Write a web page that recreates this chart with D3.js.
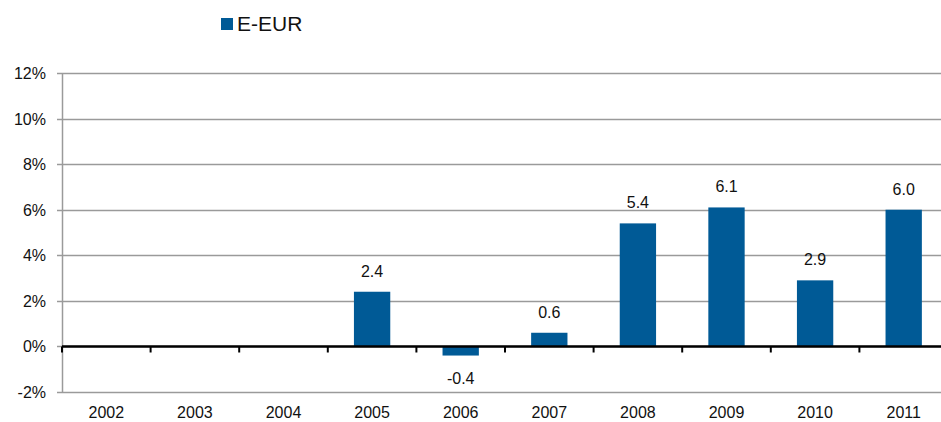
<!DOCTYPE html>
<html lang="en">
<head>
<meta charset="utf-8">
<title>E-EUR</title>
<script src="https://cdn.jsdelivr.net/npm/d3@7"></script>
<style>
  body, html { margin:0; padding:0; background:#fff; }
  svg { font-family: Arial, "Liberation Sans", sans-serif; }
</style>
</head>
<body>
<svg id="chart" width="941" height="422"></svg>
<script>
var years  = ['2002','2003','2004','2005','2006','2007','2008','2009','2010','2011'];
var values = [null, null, null, 2.4, -0.4, 0.6, 5.4, 6.1, 2.9, 6.0];
var yTicks = [-2, 0, 2, 4, 6, 8, 10, 12];
var seriesName = 'E-EUR';

var svg = d3.select('#chart');
// note: "top" is a reserved window property, so use plot* names
var plotLeft = 62, plotRight = 948, plotTop = 73, plotBottom = 392;

var x = d3.scaleBand().domain(years).range([plotLeft, plotRight]).paddingInner(0.59).paddingOuter(0.295);
var xb = d3.scaleBand().domain(years).range([plotLeft, plotRight]);
var y = d3.scaleLinear().domain([-2, 12]).range([plotBottom, plotTop]);

// gridlines
svg.append('g').selectAll('line').data(yTicks).enter().append('line')
  .attr('x1', plotLeft - 5).attr('x2', 941)
  .attr('y1', function(d){ return Math.round(y(d)) + 0.5; })
  .attr('y2', function(d){ return Math.round(y(d)) + 0.5; })
  .attr('stroke', '#9a9a9a').attr('stroke-width', 1.5);

// left axis line
svg.append('line').attr('x1', plotLeft + 0.5).attr('x2', plotLeft + 0.5)
  .attr('y1', plotTop).attr('y2', plotBottom + 1)
  .attr('stroke', '#9a9a9a').attr('stroke-width', 1.5);

// y labels
svg.append('g').selectAll('text').data(yTicks).enter().append('text')
  .attr('x', 46).attr('y', function(d){ return y(d) + 6; })
  .attr('text-anchor', 'end').attr('font-size', 16).attr('fill', '#111')
  .text(function(d){ return d + '%'; });

// bars
var data = years.map(function(yr, i){ return { year: yr, v: values[i] }; })
  .filter(function(d){ return d.v !== null; });

svg.append('g').selectAll('rect').data(data).enter().append('rect')
  .attr('x', function(d){ return x(d.year); })
  .attr('width', x.bandwidth())
  .attr('y', function(d){ return y(Math.max(0, d.v)); })
  .attr('height', function(d){ return Math.abs(y(d.v) - y(0)); })
  .attr('fill', '#005a96');

// zero line + ticks
var zy = Math.round(y(0)) + 0.5;
svg.append('line').attr('x1', plotLeft).attr('x2', 941).attr('y1', zy).attr('y2', zy)
  .attr('stroke', '#000').attr('stroke-width', 2.5);
svg.append('g').selectAll('line').data(years).enter().append('line')
  .attr('x1', function(d){ return xb(d); }).attr('x2', function(d){ return xb(d); })
  .attr('y1', zy).attr('y2', zy + 6)
  .attr('stroke', '#000').attr('stroke-width', 2);

// value labels
svg.append('g').selectAll('text').data(data).enter().append('text')
  .attr('x', function(d){ return x(d.year) + x.bandwidth() / 2; })
  .attr('y', function(d){ return d.v >= 0 ? y(d.v) - 15 : y(d.v) + 28; })
  .attr('text-anchor', 'middle').attr('font-size', 16).attr('fill', '#111')
  .text(function(d){ return d.v.toFixed(1); });

// x labels
svg.append('g').selectAll('text').data(years).enter().append('text')
  .attr('x', function(d){ return xb(d) + xb.bandwidth() / 2; })
  .attr('y', 418)
  .attr('text-anchor', 'middle').attr('font-size', 16).attr('fill', '#111')
  .text(function(d){ return d; });

// legend
svg.append('rect').attr('x', 221).attr('y', 18).attr('width', 12).attr('height', 12).attr('fill', '#005a96');
svg.append('text').attr('x', 237).attr('y', 31).attr('font-size', 21).attr('fill', '#111').text(seriesName);
</script>
</body>
</html>
